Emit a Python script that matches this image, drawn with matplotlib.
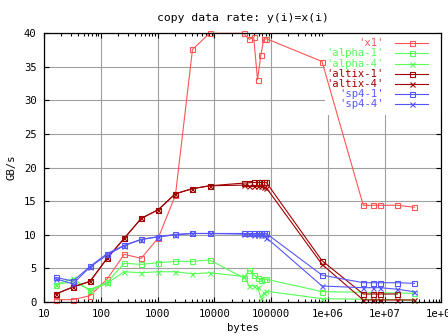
import numpy as np
import matplotlib
matplotlib.use("Agg")
import matplotlib.pyplot as plt
from matplotlib.ticker import LogLocator, FixedLocator, NullFormatter
from matplotlib.patches import Rectangle

plt.rcParams["font.family"] = ["DejaVu Sans Mono"]
plt.rcParams["font.size"] = 7.6

nan = np.nan

# transfer size in bytes
nbytes = [16, 32, 64, 128, 256, 512, 1024, 2048, 4096, 8192,
          32768, 40960, 49152, 57344, 65536, 73728, 81920,
          786432, 4194304, 6291456, 8388608, 16777216, 33554432]

# copy rate in GB/s per machine / thread count
x1 = [0.35, 0.35, 0.94, 3.4, 7.1, 6.5, 9.57, 15.9, 37.6, 40.0,
      40.0, 39.1, 39.4, 33.1, 36.7, 39.1, 39.2,
      35.8, 14.4, 14.4, 14.4, 14.4, 14.1]
alpha_1 = [2.6, 3.0, 1.85, 2.93, 5.76, 5.6, 5.85, 6.05, 6.05, 6.25,
           3.6, 4.75, 4.05, 3.6, 3.3, 3.38, 3.38,
           1.55, nan, nan, nan, nan, 1.29]
alpha_4 = [2.6, 3.5, 1.65, 2.8, 4.5, 4.36, 4.5, 4.5, 4.2, 4.36,
           3.8, 2.45, 2.4, 2.3, 0.65, 1.3, 1.6,
           0.5, nan, nan, nan, nan, 0.3]
altix_1 = [1.19, 2.23, 3.07, 6.5, 9.47, 12.45, 13.74, 16.12, 16.87, 17.3,
           17.7, 17.75, 17.8, 17.8, 17.8, 17.8, 17.8,
           6.15, 1.19, 1.19, 1.19, 1.19, nan]
altix_4 = [1.19, 2.23, 3.07, 6.5, 9.47, 12.45, 13.74, 16.12, 16.87, 17.3,
           17.4, 17.3, 17.2, 17.2, 17.2, 17.1, 17.0,
           5.6, 0.3, 0.3, 0.3, 0.3, 0.3]
sp4_1 = [3.67, 3.1, 5.3, 7.2, 8.43, 9.33, 9.72, 10.07, 10.2, 10.2,
         10.2, 10.2, 10.2, 10.2, 10.2, 10.2, 10.2,
         4.0, 2.87, 2.87, 2.87, 2.87, 2.78]
sp4_4 = [3.45, 2.7, 5.2, 7.0, 8.4, 9.3, 9.7, 10.0, 10.2, 10.2,
         10.1, 10.1, 10.0, 10.0, 10.0, 9.9, 9.6,
         2.38, 2.13, 2.13, 2.13, 1.89, 1.53]

series = [
    ("'x1'", x1, "#ff5555", "s"),
    ("'alpha-1'", alpha_1, "#55ff55", "s"),
    ("'alpha-4'", alpha_4, "#55ff55", "x"),
    ("'altix-1'", altix_1, "#a00000", "s"),
    ("'altix-4'", altix_4, "#a00000", "x"),
    ("'sp4-1'", sp4_1, "#5555ff", "s"),
    ("'sp4-4'", sp4_4, "#5555ff", "x"),
]

xtick_vals = [10, 100, 1000, 10000, 100000, 1e6, 1e7, 1e8]
xtick_labels = ["10", "100", "1000", "10000", "100000", "1e+06", "1e+07", "1e+08"]

fig = plt.figure(figsize=(4.48, 3.36), dpi=100)
ax = fig.add_axes([44.3 / 448, 34 / 336, 397.1 / 448, 268.7 / 336])
ax.set_xscale("log")
ax.set_xlim(10, 1e8)
ax.set_ylim(0, 40)

ax.xaxis.set_major_locator(FixedLocator(xtick_vals))
ax.set_xticklabels(xtick_labels)
ax.xaxis.set_minor_locator(LogLocator(base=10, subs=np.arange(2, 10), numticks=20))
ax.xaxis.set_minor_formatter(NullFormatter())
ax.set_yticks(np.arange(0, 41, 5))

ax.tick_params(which="both", direction="in", top=True, right=True, width=0.8)
ax.tick_params(which="major", length=3.5)
ax.tick_params(which="minor", length=2)
ax.tick_params(axis="x", pad=5)
ax.tick_params(axis="y", pad=5.5)
for sp in ax.spines.values():
    sp.set_linewidth(0.9)

ax.set_axisbelow(True)
ax.grid(True, which="major", color="#a0a0a0", linewidth=0.8)

# key area is kept clear of grid lines
ax.add_patch(Rectangle((0.7069, 0.696), 0.2931, 0.304, transform=ax.transAxes,
                       facecolor="white", edgecolor="none", zorder=1))

xb = np.array(nbytes, dtype=float)
for label, vals, color, mk in series:
    v = np.array(vals, dtype=float)
    ok = ~np.isnan(v)
    ax.plot(xb[ok], v[ok], color=color, lw=0.8, marker=mk, ms=3.6,
            mfc="none", mec=color, mew=0.8, zorder=2, clip_on=False)

# key, drawn by hand
row0, step = 0.9628, 0.03785
for i, (label, vals, color, mk) in enumerate(series):
    yk = row0 - i * step
    ax.text(0.8555, yk, label, color=color, ha="right", va="center",
            transform=ax.transAxes, zorder=3)
    ax.plot([0.883, 0.966], [yk, yk], color=color, lw=0.8,
            transform=ax.transAxes, clip_on=False, zorder=3)
    ax.plot([0.925], [yk], color=color, marker=mk, ms=3.6, mfc="none",
            mec=color, mew=0.8, transform=ax.transAxes, clip_on=False, zorder=3)

ax.set_title("copy data rate: y(i)=x(i)", fontsize=8.2, pad=9)
ax.set_xlabel("bytes", labelpad=3)
ax.set_ylabel("GB/s", labelpad=5)

fig.savefig("out.png", dpi=100)
